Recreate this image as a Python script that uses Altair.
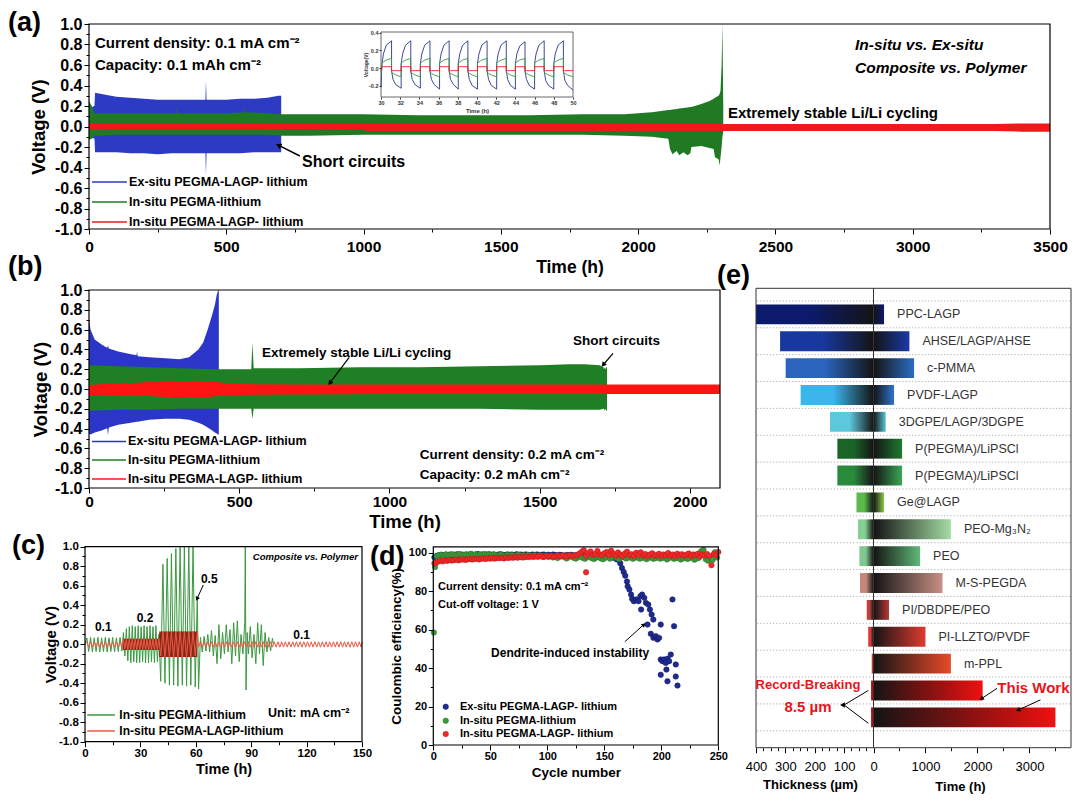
import altair as alt
import pandas as pd

FONT = "Liberation Sans"
W, H = 1064, 789

# ============================== DATA ==============================
# (a) 0.1 mA cm-2 : upper / lower envelopes of the voltage traces
a_blue_t = [0, 20, 22, 60, 100, 150, 200, 250, 300, 350, 400, 424, 426, 428, 500, 550, 600, 650, 690, 700]
a_blue_hi = [0.18, 0.2, 0.33, 0.31, 0.29, 0.28, 0.27, 0.26, 0.26, 0.26, 0.26, 0.26, 0.45, 0.26, 0.26, 0.27, 0.27, 0.28, 0.30, 0.30]
a_blue_lo = [-0.1, -0.12, -0.25, -0.25, -0.25, -0.26, -0.26, -0.27, -0.26, -0.26, -0.26, -0.26, -0.48, -0.26, -0.26, -0.26, -0.25, -0.25, -0.25, -0.25]
a_green_t = [0, 10, 20, 100, 200, 300, 317, 319, 321, 400, 500, 566, 568, 570, 650, 700, 800, 1000, 1200, 1400,
             1600, 1800, 1950, 2050, 2110, 2116, 2125, 2140, 2150, 2165, 2180, 2190, 2194, 2230, 2260, 2275, 2280,
             2293, 2297, 2300, 2304, 2307, 2310]
a_green_hi = [0.25, 0.2, 0.13, 0.13, 0.13, 0.13, 0.13, 0.19, 0.13, 0.13, 0.13, 0.14, 0.2, 0.14, 0.13, 0.12, 0.12, 0.12, 0.11, 0.11,
              0.11, 0.12, 0.12, 0.14, 0.16, 0.16, 0.165, 0.17, 0.175, 0.18, 0.185, 0.19, 0.19, 0.22, 0.25, 0.27, 0.28,
              0.30, 0.32, 0.35, 0.6, 1.0, 0.2]
a_green_lo = [-0.13, -0.12, -0.09, -0.08, -0.08, -0.08, -0.08, -0.08, -0.08, -0.08, -0.08, -0.08, -0.08, -0.08, -0.08, -0.09, -0.09, -0.08, -0.08, -0.08,
              -0.08, -0.08, -0.09, -0.1, -0.12, -0.22, -0.27, -0.24, -0.28, -0.25, -0.28, -0.26, -0.2, -0.19, -0.21, -0.22, -0.3,
              -0.32, -0.38, -0.3, -0.2, -0.1, -0.05]
a_red_t = [0, 1000, 1010, 3300, 3400, 3500]
a_red_hi = [0.025, 0.025, 0.025, 0.025, 0.03, 0.03]
a_red_lo = [-0.03, -0.03, -0.045, -0.045, -0.05, -0.05]

# (a) inset, 30-50 h
inset_t = [30.0,
           30.1, 30.25, 30.55, 31.1, 31.1, 31.25, 31.55, 32.1,
           32.1, 32.25, 32.55, 33.1, 33.1, 33.25, 33.55, 34.1,
           34.1, 34.25, 34.55, 35.1, 35.1, 35.25, 35.55, 36.1,
           36.1, 36.25, 36.55, 37.1, 37.1, 37.25, 37.55, 38.05,
           38.05, 38.2, 38.5, 39.05, 39.05, 39.2, 39.5, 40.05,
           40.05, 40.2, 40.5, 41.05, 41.05, 41.2, 41.5, 42.05,
           42.05, 42.2, 42.5, 43.05, 43.05, 43.2, 43.5, 44.0,
           44.0, 44.15, 44.45, 45.0, 45.0, 45.15, 45.45, 46.0,
           46.0, 46.15, 46.45, 47.0, 47.0, 47.15, 47.45, 48.0,
           48.0, 48.15, 48.45, 49.0, 49.0, 49.15, 49.45, 50.0]
inset_blue = [-0.22,
              0.04, 0.16, 0.26, 0.31, -0.03, -0.13, -0.19, -0.23,
              0.05, 0.16, 0.26, 0.31, -0.03, -0.13, -0.19, -0.23,
              0.05, 0.16, 0.26, 0.31, -0.03, -0.13, -0.19, -0.24,
              0.05, 0.16, 0.26, 0.31, -0.03, -0.13, -0.19, -0.24,
              0.05, 0.16, 0.26, 0.31, -0.03, -0.13, -0.2, -0.24,
              0.05, 0.16, 0.26, 0.31, -0.03, -0.13, -0.2, -0.24,
              0.05, 0.16, 0.26, 0.31, -0.03, -0.13, -0.2, -0.24,
              0.05, 0.16, 0.25, 0.30, -0.03, -0.13, -0.2, -0.24,
              0.05, 0.16, 0.26, 0.31, -0.03, -0.14, -0.2, -0.24,
              0.05, 0.16, 0.26, 0.31, -0.03, -0.14, -0.2, -0.25]
inset_green = [-0.09,
               0.05, 0.07, 0.09, 0.11, -0.05, -0.06, -0.08, -0.1,
               0.05, 0.07, 0.09, 0.11, -0.05, -0.06, -0.08, -0.1,
               0.05, 0.07, 0.09, 0.11, -0.05, -0.06, -0.08, -0.1,
               0.05, 0.07, 0.09, 0.11, -0.05, -0.06, -0.08, -0.1,
               0.05, 0.07, 0.09, 0.11, -0.05, -0.06, -0.08, -0.1,
               0.05, 0.07, 0.09, 0.11, -0.05, -0.06, -0.08, -0.1,
               0.05, 0.07, 0.09, 0.11, -0.05, -0.06, -0.08, -0.1,
               0.05, 0.07, 0.09, 0.11, -0.05, -0.06, -0.08, -0.1,
               0.05, 0.07, 0.09, 0.11, -0.05, -0.06, -0.08, -0.1,
               0.05, 0.07, 0.09, 0.11, -0.05, -0.06, -0.08, -0.1]
inset_red = [-0.03,
             0.015, 0.015, 0.015, 0.015, -0.03, -0.03, -0.03, -0.03,
             0.015, 0.015, 0.015, 0.015, -0.03, -0.03, -0.03, -0.03,
             0.015, 0.015, 0.015, 0.015, -0.03, -0.03, -0.03, -0.03,
             0.015, 0.015, 0.015, 0.015, -0.03, -0.03, -0.03, -0.03,
             0.015, 0.015, 0.015, 0.015, -0.03, -0.03, -0.03, -0.03,
             0.015, 0.015, 0.015, 0.015, -0.03, -0.03, -0.03, -0.03,
             0.015, 0.015, 0.015, 0.015, -0.03, -0.03, -0.03, -0.03,
             0.015, 0.015, 0.015, 0.015, -0.03, -0.03, -0.03, -0.03,
             0.015, 0.015, 0.015, 0.015, -0.03, -0.03, -0.03, -0.03,
             0.015, 0.015, 0.015, 0.015, -0.03, -0.03, -0.03, -0.03]

# (b) 0.2 mA cm-2 : envelopes
b_blue_t = [0, 5, 19, 42, 58, 61, 63, 66, 97, 140, 158, 160, 162, 200, 254, 301, 333, 364, 380, 395, 410, 419, 425, 430, 432]
b_blue_hi = [0.71, 0.6, 0.5, 0.45, 0.42, 0.42, 0.44, 0.41, 0.38, 0.35, 0.34, 0.38, 0.33, 0.32, 0.31, 0.30, 0.32, 0.40, 0.47, 0.6, 0.75, 0.85, 0.95, 1.0, 1.0]
b_blue_lo = [-0.45, -0.46, -0.44, -0.42, -0.4, -0.4, -0.47, -0.39, -0.36, -0.34, -0.33, -0.33, -0.33, -0.31, -0.30, -0.30, -0.31, -0.34, -0.36, -0.39, -0.42, -0.44, -0.45, -0.46, -0.46]
b_green_t = [0, 100, 200, 300, 430, 500, 540, 544, 548, 700, 900, 1100, 1300, 1500, 1600, 1650, 1700, 1712, 1714, 1716, 1718, 1722, 1724]
b_green_hi = [0.24, 0.23, 0.22, 0.21, 0.2, 0.2, 0.2, 0.47, 0.21, 0.21, 0.22, 0.22, 0.23, 0.24, 0.25, 0.25, 0.24, 0.22, 0.2, 0.22, 0.2, 0.22, 0.22]
b_green_lo = [-0.22, -0.21, -0.21, -0.2, -0.2, -0.2, -0.2, -0.3, -0.2, -0.2, -0.2, -0.2, -0.2, -0.21, -0.21, -0.21, -0.21, -0.2, -0.2, -0.22, -0.2, -0.22, -0.22]
b_red_t = [0, 50, 100, 200, 250, 300, 350, 400, 430, 450, 500, 700, 1000, 1500, 2100]
b_red_hi = [0.04, 0.05, 0.05, 0.07, 0.08, 0.08, 0.08, 0.075, 0.07, 0.06, 0.05, 0.045, 0.045, 0.045, 0.045]
b_red_lo = [-0.06, -0.06, -0.065, -0.07, -0.08, -0.085, -0.08, -0.08, -0.07, -0.06, -0.06, -0.055, -0.05, -0.05, -0.05]

# (c) rate test: turning points of the traces
c_green_t = [0, 1, 2, 3, 4, 5, 6, 7, 8, 9, 10, 11, 12, 13, 14, 15, 16, 17, 18, 19, 20,
             20.8, 21.6, 22.4, 23.2, 24.0, 24.8, 25.6, 26.4, 27.2, 28.0, 28.8, 29.6, 30.4, 31.2, 32.0, 32.8, 33.6,
             34.4, 35.2, 36.0, 36.8, 37.6, 38.4, 39.2, 40.0,
             41.0, 42.2, 43.3, 44.5, 45.7, 46.8, 48.0, 49.2, 50.3, 51.5, 52.7, 53.8, 55.0, 56.2, 57.3, 58.5, 59.7, 60.8,
             61.5, 62.5, 63.5, 64.5, 65.5, 66.5, 67.5, 68.5, 69.5, 70.5, 71.5, 72.5, 73.5, 74.5, 75.5, 76.5, 77.5,
             78.5, 79.5, 80.5, 81.5, 82.5, 83.5, 84.5, 85.5, 86.5, 86.8, 87.2, 87.8, 88.5, 89.5, 90.5, 91.5, 92.5,
             93.5, 94.5, 95.5, 96.5, 97.5, 98.5, 99.5, 100.5, 101.5, 102.0]
c_green_v = [0.0, 0.065, -0.075, 0.07, -0.08, 0.065, -0.075, 0.07, -0.08, 0.065, -0.075, 0.07, -0.08, 0.065, -0.075,
             0.07, -0.08, 0.065, -0.075, 0.07, -0.07,
             0.12, -0.12, 0.16, -0.17, 0.18, -0.19, 0.19, -0.18, 0.18, -0.19, 0.19, -0.19, 0.18, -0.18, 0.19, -0.19,
             0.18, -0.19, 0.19, -0.18, 0.18, -0.19, 0.19, -0.18, 0.1,
             -0.38, 0.82, -0.4, 0.88, -0.42, 0.93, -0.42, 0.98, -0.43, 1.0, -0.42, 1.0, -0.43, 1.0, -0.42, 1.0, -0.44, 0.49,
             -0.46, 0.07, -0.08, 0.08, -0.07, 0.1, -0.08, 0.14, -0.12, 0.09, -0.2, 0.2, -0.15, 0.12, -0.1, 0.2, -0.08,
             0.15, -0.2, 0.22, -0.12, 0.24, -0.18, 0.1, -0.1, 0.22, 1.0, -0.47, 0.12, -0.1, 0.18, -0.14, 0.1, -0.2,
             0.22, -0.1, 0.2, -0.22, 0.12, -0.08, 0.07, -0.07, 0.06, 0.0]
c_red_t = [0, 1, 2, 3, 4, 5, 6, 7, 8, 9, 10, 11, 12, 13, 14, 15, 16, 17, 18, 19, 20,
           20.8, 21.6, 22.4, 23.2, 24.0, 24.8, 25.6, 26.4, 27.2, 28.0, 28.8, 29.6, 30.4, 31.2, 32.0, 32.8, 33.6,
           34.4, 35.2, 36.0, 36.8, 37.6, 38.4, 39.2, 40.0,
           41.0, 42.2, 43.3, 44.5, 45.7, 46.8, 48.0, 49.2, 50.3, 51.5, 52.7, 53.8, 55.0, 56.2, 57.3, 58.5, 59.7, 60.8,
           61.5, 62.5, 63.5, 64.5, 65.5, 66.5, 67.5, 68.5, 69.5, 70.5, 71.5, 72.5, 73.5, 74.5, 75.5, 76.5, 77.5, 78.5,
           79.5, 80.5, 81.5, 82.5, 83.5, 84.5, 85.5, 86.5, 87.5, 88.5, 89.5, 90.5, 91.5, 92.5, 93.5, 94.5, 95.5, 96.5,
           97.5, 98.5, 99.5, 100.5, 101.5, 102.5, 103.5, 104.5, 105.5, 106.5, 107.5, 108.5, 109.5, 110.5, 111.5,
           112.5, 113.5, 114.5, 115.5, 116.5, 117.5, 118.5, 119.5, 120.5, 121.5, 122.5, 123.5, 124.5, 125.5, 126.5,
           127.5, 128.5, 129.5, 130.5, 131.5, 132.5, 133.5, 134.5, 135.5, 136.5, 137.5, 138.5, 139.5, 140.5, 141.5,
           142.5, 143.5, 144.5, 145.5, 146.5, 147.5, 148.5, 149.5, 150]
c_red_v = [0.0, 0.025, -0.03, 0.025, -0.03, 0.025, -0.03, 0.025, -0.03, 0.025, -0.03, 0.025, -0.03, 0.025, -0.03,
           0.025, -0.03, 0.025, -0.03, 0.025, -0.03,
           0.05, -0.05, 0.055, -0.06, 0.055, -0.06, 0.055, -0.06, 0.055, -0.06, 0.055, -0.06, 0.055, -0.06, 0.055,
           -0.06, 0.055, -0.06, 0.055, -0.06, 0.055, -0.06, 0.055, -0.06, 0.055,
           -0.12, 0.13, -0.13, 0.13, -0.13, 0.13, -0.13, 0.13, -0.13, 0.13, -0.13, 0.13, -0.13, 0.13, -0.13, 0.13, -0.12, 0.12,
           -0.03, 0.025, -0.03, 0.025, -0.03, 0.025, -0.03, 0.025, -0.03, 0.025, -0.03, 0.025, -0.03, 0.025, -0.03,
           0.025, -0.03, 0.025, -0.03, 0.025, -0.03, 0.025, -0.03, 0.025, -0.03, 0.025, -0.03, 0.025, -0.03, 0.025,
           -0.03, 0.025, -0.03, 0.025, -0.03, 0.025, -0.03, 0.025, -0.03, 0.025, -0.03, 0.025, -0.03, 0.025, -0.03,
           0.025, -0.03, 0.025, -0.03, 0.025, -0.03, 0.025, -0.03, 0.025, -0.03, 0.025, -0.03, 0.025, -0.03, 0.025,
           -0.03, 0.025, -0.03, 0.025, -0.03, 0.025, -0.03, 0.025, -0.03, 0.025, -0.03, 0.025, -0.03, 0.025, -0.03,
           0.025, -0.03, 0.025, -0.03, 0.025, -0.03, 0.025, -0.03, 0.025, -0.03, 0.025, -0.03, 0.025, -0.03, 0.025]
c_block_t = [20.5, 40.0, 40.2, 60.8]
c_block_hi = [0.055, 0.055, 0.13, 0.13]
c_block_lo = [-0.06, -0.06, -0.13, -0.13]

# (d) Coulombic efficiency
d_blue_c = list(range(1, 162, 2))
d_blue_v = [97.6, 98.4, 98.7, 98.9, 98.6, 99.0, 98.8, 99.1, 98.7, 98.9, 99.2, 98.8, 99.0, 98.7, 99.1, 98.9, 99.2,
            98.8, 99.0, 99.3, 98.9, 99.1, 98.8, 99.0, 99.2, 98.9, 99.1, 98.7, 99.0, 99.2, 98.9, 98.8, 99.1, 98.9,
            99.0, 98.7, 99.2, 98.9, 99.0, 98.8, 99.1, 98.9, 98.7, 99.0, 98.8, 99.1, 98.6, 98.9, 99.0, 98.7, 98.9,
            98.6, 99.0, 98.8, 98.5, 98.9, 98.7, 98.4, 98.8, 98.6, 98.9, 98.5, 98.7, 98.4, 98.8, 98.6, 98.3, 98.7,
            98.5, 98.8, 98.4, 98.6, 98.3, 98.7, 98.5, 98.2, 98.6, 98.4, 97.8, 97.2, 96.5]
d_blue_fail_c = [164, 165.5, 167, 168.4, 169.9, 170.5, 172, 173.5, 174.4, 175.9, 177.9, 180, 181.7, 183.2, 182.3, 185.1,
                 186.5, 188.6, 190, 191.5, 193, 187.9, 190.8, 193.1, 195.2, 196.6, 198.1, 199.5, 199.5, 201, 202.5,
                 203.9, 205.4, 206.9, 208.3, 209.8, 211.2, 212.7, 199.5, 205.4, 212.7, 214.2, 204.5]
d_blue_fail_v = [94.5, 92, 90, 88, 85, 82.5, 80.8, 78.2, 76, 74.8, 75.7, 74.8, 77.4, 78.2, 70.4, 76.5,
                 73.9, 73, 70.4, 67.8, 65.2, 62.6, 57.8, 55.7, 56.6, 54.9, 55.7, 62.6, 44.5, 43.6, 44.5,
                 42.7, 44.8, 43.6, 47, 75.7, 61.8, 41.9, 36.5, 33.1, 35.6, 30.9, 39.2]
d_green_c = [0.5, 1.5] + list(range(3, 250, 2))
d_green_v = [58.5, 92.5,
             98.2, 98.6, 98.9, 98.4, 99.1, 98.7, 98.8, 99.2, 98.5, 98.9, 99.3, 98.7, 98.9, 99.0, 98.6, 99.4, 98.8,
             99.1, 98.7, 99.0, 98.9, 99.3, 98.8, 99.0,
             98.6, 99.1, 98.8, 98.4, 99.0, 98.7, 98.2, 98.9, 98.5, 98.8, 98.3, 98.7, 98.9, 98.4, 98.6, 98.1, 98.8,
             98.5, 98.3, 98.7, 98.0, 98.6, 98.4, 97.9, 98.5,
             97.8, 98.3, 97.5, 98.1, 97.2, 97.9, 98.4, 97.6, 97.0, 97.8, 98.2, 97.4, 96.9, 97.7, 98.0, 97.3, 96.8,
             97.6, 97.9, 97.1, 96.7, 97.5, 97.8, 97.0, 96.6,
             97.4, 97.9, 96.9, 97.6, 98.1, 97.2, 96.7, 97.5, 97.8, 97.0, 97.3, 98.0, 96.8, 97.4, 97.7, 96.9, 97.2,
             97.9, 96.6, 97.3, 97.6, 96.8, 97.1, 97.8, 96.9,
             97.2, 97.7, 96.5, 97.3, 97.9, 96.8, 97.1, 97.6, 96.4, 97.0, 97.5, 96.7, 97.2, 97.8, 96.3, 96.9, 97.4,
             100.8, 101.5, 96.6, 95.8, 97.1, 96.2, 100.2, 97.5]
d_red_c = [1] + list(range(2, 251, 2)) + [134]
d_red_v = [94.5,
           94.6, 95.3, 95.8, 95.5, 96.0, 95.7, 96.2, 95.9, 96.1, 96.4, 96.0, 96.3, 96.6, 96.2, 96.5, 96.8, 96.4,
           96.7, 96.9, 96.5, 96.8, 97.0, 96.7, 97.1, 96.9,
           97.2, 96.9, 97.3, 97.1, 97.4, 97.0, 97.5, 97.2, 97.6, 97.3, 97.7, 97.4, 97.8, 97.5, 97.6, 97.9, 97.7,
           98.0, 97.8, 98.1, 97.9, 98.2, 97.8, 98.0, 98.3,
           98.1, 98.4, 98.0, 98.3, 98.5, 98.2, 98.6, 98.1, 98.4, 98.7, 98.3, 98.5, 98.8, 99.5, 100.4, 101.2, 98.4,
           99.8, 100.6, 98.9, 99.3, 100.9, 99.1, 98.6, 99.7,
           100.3, 98.8, 101.0, 99.4, 98.5, 100.1, 99.0, 98.3, 99.6, 100.5, 98.7, 99.2, 98.4, 99.9, 98.9, 100.2,
           98.6, 99.3, 98.2, 99.0, 99.7, 98.5, 98.8, 99.4, 98.3,
           99.1, 98.6, 99.8, 98.4, 99.0, 98.2, 99.5, 98.7, 99.2, 98.5, 98.9, 99.6, 98.3, 99.1, 98.8, 99.4, 98.1,
           99.0, 98.6, 99.3, 98.4, 93.5, 99.2, 98.7, 100.3,
           89.8]

# (e) thickness vs cycling time
e_names = ["PPC-LAGP", "AHSE/LAGP/AHSE", "c-PMMA", "PVDF-LAGP", "3DGPE/LAGP/3DGPE", "P(PEGMA)/LiPSCl",
           "P(PEGMA)/LiPSCl", "Ge@LAGP", "PEO-Mg\u2083N\u2082", "PEO", "M-S-PEGDA", "PI/DBDPE/PEO", "PI-LLZTO/PVDF",
           "m-PPL", "", ""]
e_thick = [400, 318, 299, 248, 148, 123, 123, 58, 53, 48, 46, 23, 18, 6, 8.5, 8.5]
e_time = [203, 691, 781, 396, 235, 550, 550, 203, 1489, 897, 1328, 299, 1000, 1489, 2100, 3500]
e_col_left = ["#0c1a6e", "#1838a0", "#2a64bc", "#3cb4ec", "#5cc8dc", "#1a6428", "#2a8a3c", "#5cba4c",
              "#86d096", "#80c890", "#c48878", "#c04040", "#d83838", "#d43020", "#e01010", "#e01010"]
e_col_right = ["#0c1a6e", "#1a3aa8", "#2c6cc4", "#2e74cc", "#56c4d8", "#1e7a30", "#3aa655", "#88cc44",
               "#a4dca4", "#60b878", "#c89084", "#b83838", "#e03a30", "#e84a28", "#f01010", "#f01010"]

# ============================== HELPERS ==============================
class Panel:
    def __init__(self, xd, xr, yd, yr):
        self.xd, self.xr, self.yd, self.yr = xd, xr, yd, yr

    def X(self, f, axis=None):
        return alt.X(f"{f}:Q", scale=alt.Scale(domain=self.xd, range=self.xr, nice=False, zero=False), axis=axis)

    def Y(self, f, axis=None):
        return alt.Y(f"{f}:Q", scale=alt.Scale(domain=self.yd, range=self.yr, nice=False, zero=False), axis=axis)


def area(P, t, hi, lo, color):
    n = min(len(t), len(hi), len(lo))
    df = pd.DataFrame({"t": t[:n], "hi": hi[:n], "lo": lo[:n]})
    return alt.Chart(df).mark_area(color=color, opacity=1, interpolate="linear").encode(
        x=P.X("t"), y=P.Y("hi"), y2=alt.Y2("lo"))


def line(P, t, v, color, width=1.0):
    n = min(len(t), len(v))
    df = pd.DataFrame({"t": t[:n], "v": v[:n], "i": list(range(n))})
    return alt.Chart(df).mark_line(color=color, strokeWidth=width, interpolate="linear").encode(
        x=P.X("t"), y=P.Y("v"), order=alt.Order("i:Q"))


def text(P, x, y, s, size, color="black", weight="bold", align="left", style="normal", dx=0):
    df = pd.DataFrame({"x": [x], "y": [y], "s": [s]})
    return alt.Chart(df).mark_text(font=FONT, fontSize=size, fontWeight=weight, fontStyle=style, color=color,
                                   align=align, baseline="middle", dx=dx).encode(
        x=P.X("x"), y=P.Y("y"), text="s:N")


def seg(P, x, y, x2, y2, color="black", width=1.0):
    df = pd.DataFrame({"x": [x], "y": [y], "x2": [x2], "y2": [y2]})
    return alt.Chart(df).mark_rule(color=color, strokeWidth=width).encode(
        x=P.X("x"), y=P.Y("y"), x2=alt.X2("x2"), y2=alt.Y2("y2"))


def head(P, x, y, angle, size=30, color="black"):
    df = pd.DataFrame({"x": [x], "y": [y]})
    return alt.Chart(df).mark_point(shape="triangle", filled=True, size=size, angle=angle, color=color,
                                    opacity=1).encode(x=P.X("x"), y=P.Y("y"))


def frame(P, xd, yd, ax=None, ay=None, stroke="black", sw=1.2, fill=None):
    df = pd.DataFrame({"x0": [xd[0]], "x1": [xd[1]], "y0": [yd[0]], "y1": [yd[1]]})
    mk = dict(stroke=stroke, strokeWidth=sw)
    if fill:
        mk["fill"] = fill
    else:
        mk["fillOpacity"] = 0
    if sw == 0:
        mk["strokeOpacity"] = 0
    return alt.Chart(df).mark_rect(**mk).encode(
        x=P.X("x0", ax), x2=alt.X2("x1"), y=P.Y("y0", ay), y2=alt.Y2("y1"))


def xaxis(offset, values, title, title_y, lsize, tsz, lpad, title_x=None, lweight="bold", tick=5, fmt="d"):
    kw = dict(orient="bottom", offset=offset, values=values, format=fmt, grid=False, domain=False,
              tickColor="black", tickWidth=1, tickSize=tick, zindex=1,
              labelFont=FONT, labelFontSize=lsize, labelFontWeight=lweight, labelColor="black",
              labelPadding=lpad, labelFlush=False, labelOverlap=False,
              title=title, titleFont=FONT, titleFontSize=tsz, titleFontWeight="bold", titleColor="black",
              titleY=title_y, titleBaseline="middle", titleAlign="center")
    if title_x is not None:
        kw["titleX"] = title_x
    return alt.Axis(**kw)


def yaxis(offset, values, title, title_x, lsize, tsz, lpad, expr, tick=5):
    return alt.Axis(orient="left", offset=offset, values=values, labelExpr=expr, grid=False, domain=False,
                    tickColor="black", tickWidth=1, tickSize=tick, zindex=1,
                    labelFont=FONT, labelFontSize=lsize, labelFontWeight="bold", labelColor="black",
                    labelPadding=lpad, labelFlush=False, labelOverlap=False,
                    title=title, titleFont=FONT, titleFontSize=tsz, titleFontWeight="bold",
                    titleColor="black", titleX=title_x, titleBaseline="middle", titleAlign="center",
                    titleAngle=270)


def minor(orient, offset, values, tick=3):
    return alt.Axis(orient=orient, offset=offset, values=values, labels=False, title="", grid=False,
                    domain=False, tickColor="black", tickWidth=1, tickSize=tick, zindex=1)


def minor_frame(P, xd, yd, xvals, yvals, xoff, yoff):
    ax = minor("bottom", xoff, xvals) if xvals else None
    ay = minor("left", yoff, yvals) if yvals else None
    return frame(P, xd, yd, ax, ay, sw=0)


V_EXPR = "(datum.value < 0 ? '-' : '') + format(abs(datum.value), '.1f')"
V_MAJOR = [-1.0, -0.8, -0.6, -0.4, -0.2, 0.0, 0.2, 0.4, 0.6, 0.8, 1.0]
V_MINOR = [-0.9, -0.7, -0.5, -0.3, -0.1, 0.1, 0.3, 0.5, 0.7, 0.9]

# ============================== PANELS ==============================
PA = Panel([0, 3500], [81, 1042], [-1, 1], [221, 16])
PIN = Panel([30, 50], [373, 565], [-0.33, 0.41], [89, 24])
PB = Panel([0, 2100], [81, 712], [-1, 1], [480, 282])
PC = Panel([0, 150], [77, 354], [-1, 1], [733.7, 538.7])
PD = Panel([0, 250], [425.3, 710.3], [0, 103], [737, 538.9])
PEL = Panel([0, 400], [865.5, 748], [0.03, 17.13], [280.3, 739.7])
PER = Panel([0, 3800], [865.5, 1063], [0.03, 17.13], [280.3, 739.7])

BLUE_A, GREEN_A, RED_A = "#2d3bc4", "#1f7a23", "#f01818"
BLUE_B, GREEN_B, RED_B = "#2b36c8", "#1e7f24", "#ff1414"
GREEN_C, RED_C, BLOCK_C = "#3a983f", "#ec5a45", "#8a2818"

L = []  # every layer, flat (each with its own explicit scale)

# ---- (a)
ax_a = xaxis(221 - H, list(range(0, 3501, 500)), "Time (h)", 38, 15.5, 17.5, 5)
ay_a = yaxis(-81, V_MAJOR, "Voltage (V)", -51, 16, 18.5, 2, V_EXPR)
L += [
    area(PA, a_blue_t, a_blue_hi, a_blue_lo, BLUE_A),
    area(PA, a_green_t, a_green_hi, a_green_lo, GREEN_A),
    area(PA, a_red_t, a_red_hi, a_red_lo, RED_A),
    minor_frame(PA, [0, 3500], [-1, 1], list(range(250, 3500, 500)), V_MINOR, 221 - H, -81),
    frame(PA, [0, 3500], [-1, 1], ax_a, ay_a),
    text(PA, 21.9, 0.815, "Current density: 0.1 mA cm\u207b\u00b2", 15),
    text(PA, 21.9, 0.6, "Capacity: 0.1 mAh cm\u207b\u00b2", 15),
    text(PA, 2790, 0.795, "In-situ vs. Ex-situ", 15.5, style="italic"),
    text(PA, 2790, 0.571, "Composite vs. Polymer", 15.5, style="italic"),
    text(PA, 2327, 0.135, "Extremely stable Li/Li cycling", 15),
    text(PA, 776, -0.346, "Short circuits", 16),
    seg(PA, 768, -0.288, 693, -0.187, "black", 1.5),
    head(PA, 693, -0.187, 296, 40),
    seg(PA, 11, -0.541, 138, -0.541, BLUE_A, 1.5),
    seg(PA, 11, -0.737, 138, -0.737, GREEN_A, 1.5),
    seg(PA, 11, -0.932, 138, -0.932, RED_A, 1.5),
    text(PA, 146, -0.541, "Ex-situ PEGMA-LAGP- lithium", 12.5),
    text(PA, 146, -0.737, "In-situ PEGMA-lithium", 12.5),
    text(PA, 146, -0.932, "In-situ PEGMA-LAGP- lithium", 12.5),
]

# ---- inset of (a)
ax_in = alt.Axis(orient="bottom", offset=89 - H, values=list(range(30, 51, 2)), format="d", grid=False,
                 domain=False, tickSize=2, tickColor="#333", zindex=1, labelFont=FONT, labelFontSize=5.5,
                 labelFontWeight="bold", labelColor="#333", labelPadding=1, labelFlush=False,
                 labelOverlap=False, title="Time (h)", titleFont=FONT, titleFontSize=6, titleFontWeight="bold",
                 titleColor="#333", titleY=13, titleBaseline="middle")
ay_in = alt.Axis(orient="left", offset=-373, values=[-0.2, 0.0, 0.2, 0.4], labelExpr=V_EXPR, grid=False,
                 domain=False, tickSize=2, tickColor="#333", zindex=1, labelFont=FONT, labelFontSize=5.5,
                 labelFontWeight="bold", labelColor="#333", labelPadding=1, labelFlush=False,
                 labelOverlap=False, title="Voltage(V)", titleFont=FONT, titleFontSize=5, titleFontWeight="bold",
                 titleColor="#333", titleX=-16, titleBaseline="middle", titleAngle=270)
L += [
    frame(PIN, [30, 50], [-0.33, 0.41], ax_in, ay_in, stroke="#444", sw=0.8, fill="white"),
    line(PIN, inset_t, inset_blue, "#27358f", 0.9),
    line(PIN, inset_t, inset_green, "#3c9b45", 0.9),
    line(PIN, inset_t, inset_red, "#ee2020", 0.9),
]

# ---- (b)
ax_b = xaxis(480 - H, list(range(0, 2001, 500)), "Time (h)", 33, 15.5, 18.5, 1)
ay_b = yaxis(-81, V_MAJOR, "Voltage (V)", -49, 16, 18.5, 2, V_EXPR)
L += [
    area(PB, b_blue_t, b_blue_hi, b_blue_lo, BLUE_B),
    area(PB, b_green_t, b_green_hi, b_green_lo, GREEN_B),
    area(PB, b_red_t, b_red_hi, b_red_lo, RED_B),
    minor_frame(PB, [0, 2100], [-1, 1], [250, 750, 1250, 1750], V_MINOR, 480 - H, -81),
    frame(PB, [0, 2100], [-1, 1], ax_b, ay_b),
    text(PB, 576, 0.364, "Extremely stable Li/Li cycling", 13.5),
    seg(PB, 866, 0.32, 803, 0.066, "black", 1.2),
    head(PB, 803, 0.066, 217, 30),
    text(PB, 1611, 0.485, "Short circuits", 13.5),
    seg(PB, 1744, 0.36, 1713, 0.25, "black", 1.2),
    head(PB, 1713, 0.25, 220, 30),
    text(PB, 1101, -0.667, "Current density: 0.2 mA cm\u207b\u00b2", 13.5),
    text(PB, 1101, -0.869, "Capacity: 0.2 mAh cm\u207b\u00b2", 13.5),
    seg(PB, 10, -0.53, 123, -0.53, BLUE_B, 1.5),
    seg(PB, 10, -0.717, 123, -0.717, GREEN_B, 1.5),
    seg(PB, 10, -0.909, 123, -0.909, RED_B, 1.5),
    text(PB, 130, -0.53, "Ex-situ PEGMA-LAGP- lithium", 12.5),
    text(PB, 130, -0.717, "In-situ PEGMA-lithium", 12.5),
    text(PB, 130, -0.909, "In-situ PEGMA-LAGP- lithium", 12.5),
]

# ---- (c)
ax_c = xaxis(733.7 - H, list(range(0, 151, 30)), "Time (h)", 27.5, 11.5, 14.5, 0.5)
ay_c = yaxis(-77, V_MAJOR, "Voltage (V)", -35, 11.5, 15, 1.7, V_EXPR)
L += [
    line(PC, c_green_t, c_green_v, GREEN_C, 1.0),
    area(PC, c_block_t, c_block_hi, c_block_lo, BLOCK_C),
    line(PC, c_red_t, c_red_v, RED_C, 1.0),
    minor_frame(PC, [0, 150], [-1, 1], [15, 45, 75, 105, 135], V_MINOR, 733.7 - H, -77),
    frame(PC, [0, 150], [-1, 1], ax_c, ay_c),
    text(PC, 9.9, 0.18, "0.1", 12, align="center"),
    text(PC, 32.5, 0.266, "0.2", 12, align="center"),
    text(PC, 67.3, 0.666, "0.5", 12, align="center"),
    text(PC, 117.3, 0.094, "0.1", 12, align="center"),
    seg(PC, 64.05, 0.607, 60.8, 0.471, "black", 1.0),
    head(PC, 60.8, 0.471, 204, 22),
    text(PC, 147.8, 0.89, "Composite vs. Polymer", 9.5, style="italic", align="right"),
    text(PC, 99.1, -0.71, "Unit: mA cm\u207b\u00b2", 12.5),
    seg(PC, 1.25, -0.726, 16.2, -0.726, GREEN_C, 1.5),
    seg(PC, 1.25, -0.89, 16.2, -0.89, RED_C, 1.5),
    text(PC, 18.6, -0.726, "In-situ PEGMA-lithium", 12),
    text(PC, 18.6, -0.89, "In-situ PEGMA-LAGP-lithium", 12),
]

# ---- (d)
def dots(P, c, v, fill, stroke, size=30):
    n = min(len(c), len(v))
    df = pd.DataFrame({"c": c[:n], "v": v[:n]})
    return alt.Chart(df).mark_circle(fill=fill, stroke=stroke, strokeWidth=0.5, size=size, opacity=1).encode(
        x=P.X("c"), y=P.Y("v"))


ax_d = xaxis(737 - H, list(range(0, 251, 50)), "Cycle number", 27.7, 11, 13.5, 0.5)
ay_d = yaxis(-425.3, list(range(0, 101, 20)), "Coulombic efficiency(%)", -36.6, 11, 13.5, 1.6, "datum.label")
D_BLUE, D_GREEN, D_RED = ("#1f2b8f", "#0f1760"), ("#3c9a3c", "#267326"), ("#f02a2a", "#b81414")
L += [
    dots(PD, d_blue_c, d_blue_v, *D_BLUE),
    dots(PD, d_blue_fail_c, d_blue_fail_v, *D_BLUE),
    dots(PD, d_green_c, d_green_v, *D_GREEN),
    dots(PD, d_red_c, d_red_v, *D_RED),
    minor_frame(PD, [0, 250], [0, 103], [25, 75, 125, 175, 225], [10, 30, 50, 70, 90], 737 - H, -425.3),
    frame(PD, [0, 250], [0, 103], ax_d, ay_d),
    text(PD, 4.1, 82.3, "Current density: 0.1 mA cm\u207b\u00b2", 11),
    text(PD, 4.1, 72.8, "Cut-off voltage: 1 V", 11),
    text(PD, 120, 48, "Dendrite-induced instability", 12, align="center"),
    seg(PD, 168, 53.7, 184.3, 62.4, "black", 1.0),
    head(PD, 184.3, 62.4, 48, 22),
    dots(PD, [10.9], [19.9], *D_BLUE),
    dots(PD, [10.9], [12.6], *D_GREEN),
    dots(PD, [10.9], [5.7], *D_RED),
    text(PD, 23.4, 19.9, "Ex-situ PEGMA-LAGP- lithium", 11),
    text(PD, 23.4, 12.6, "In-situ PEGMA-lithium", 11),
    text(PD, 23.4, 5.7, "In-situ PEGMA-LAGP- lithium", 11),
]

# ---- (e)
def gbar(P, x1, idx, stops):
    df = pd.DataFrame({"x0": [0], "x1": [x1], "y0": [idx - 0.37], "y1": [idx + 0.37]})
    grad = {"gradient": "linear", "x1": 0, "x2": 1, "y1": 0, "y2": 0,
            "stops": [{"offset": o, "color": c} for o, c in stops]}
    return alt.Chart(df).mark_rect(fill=grad, strokeWidth=0).encode(
        x=P.X("x0"), x2=alt.X2("x1"), y=P.Y("y0"), y2=alt.Y2("y1"))


grid_y = [k + 0.5 for k in range(17)]


def dotted(P, xmax):
    df = pd.DataFrame({"y": grid_y, "x0": [0] * len(grid_y), "x1": [xmax] * len(grid_y)})
    return alt.Chart(df).mark_rule(color="#9a9a9a", strokeWidth=0.8, strokeDash=[1.2, 2]).encode(
        x=P.X("x0"), x2=alt.X2("x1"), y=P.Y("y"))


ax_el = xaxis(739.7 - H, [100, 200, 300, 400], "Thickness (\u00b5m)", 37, 13, 13, 7.5,
              title_x=802, lweight="normal")
ax_er = xaxis(739.7 - H, [0, 1000, 2000, 3000], "Time (h)", 39, 13, 13, 7.5, title_x=952, lweight="normal")

L += [dotted(PEL, 400), dotted(PER, 3800)]
for k in range(16):
    idx = k + 1
    L.append(gbar(PEL, e_thick[k], idx, [(0, e_col_left[k]), (0.45, e_col_left[k]), (1, "#141414")]))
    L.append(gbar(PER, e_time[k], idx, [(0, "#141414"), (1, e_col_right[k])]))

lab_df = pd.DataFrame({"t": e_time, "i": list(range(1, 17)), "s": e_names})
L.append(alt.Chart(lab_df).mark_text(font=FONT, fontSize=12.5, color="#333", align="left",
                                     baseline="middle", dx=13).encode(
    x=PER.X("t"), y=PER.Y("i"), text="s:N"))
L += [
    minor_frame(PEL, [0, 400], [0.03, 17.13],
                [25, 50, 75, 125, 150, 175, 225, 250, 275, 325, 350, 375], None, 739.7 - H, 0),
    frame(PEL, [0, 400], [0.03, 17.13], ax_el, None, stroke="#333", sw=1),
    text(PEL, 223, 14.8, "Record-Breaking", 13, color="#e8141c", align="center"),
    text(PEL, 223, 15.6, "8.5 \u00b5m", 15, color="#e8141c", align="center"),
    seg(PEL, 17.7, 15.0, 100, 15.54, "black", 1.0),
    seg(PEL, 17.7, 16.22, 100, 15.54, "black", 1.0),
    head(PEL, 102.8, 15.54, 270, 30),
    minor_frame(PER, [0, 3800], [0.03, 17.13], [500, 1500, 2500, 3500], None, 739.7 - H, 0),
    frame(PER, [0, 3800], [0.03, 17.13], ax_er, None, stroke="#333", sw=1),
    text(PER, 3077, 14.92, "This Work", 15, color="#e8141c", align="center"),
    seg(PER, 2377, 14.92, 2088, 15.29, "black", 1.0),
    head(PER, 2088, 15.29, 236, 25),
    seg(PER, 3212, 15.35, 2794, 15.72, "black", 1.0),
    head(PER, 2794, 15.72, 245, 25),
]

# ---- panel letters
def letter(s, x, y):
    return alt.Chart(pd.DataFrame({"s": [s]})).mark_text(
        font=FONT, fontSize=27, fontWeight="bold", color="black", align="left", baseline="middle").encode(
        x=alt.value(x), y=alt.value(y), text="s:N")


L += [letter("(a)", 0, 15), letter("(b)", 0, 259), letter("(c)", 4, 538),
      letter("(d)", 362, 548.5), letter("(e)", 709, 268)]

chart = alt.layer(*L).resolve_scale(x="independent", y="independent").properties(
    width=W, height=H, padding=0, autosize=alt.AutoSizeParams(type="none"), background="white"
).configure_view(strokeWidth=0)

chart.save("out.html", embed_options={"renderer": "svg", "actions": False})
